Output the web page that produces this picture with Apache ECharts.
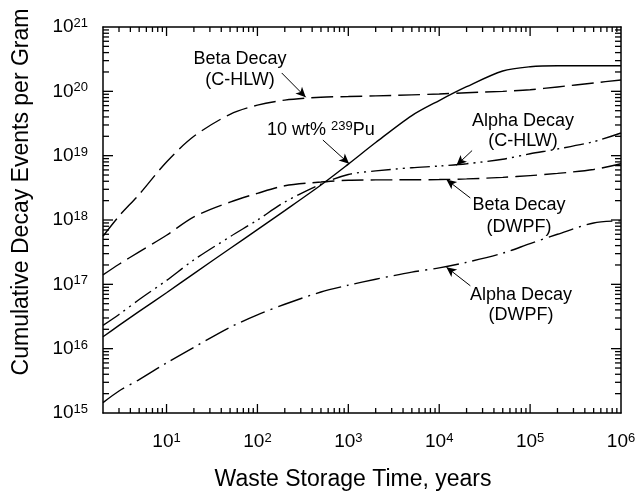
<!DOCTYPE html>
<html><head><meta charset="utf-8">
<script src="https://cdn.jsdelivr.net/npm/echarts@6/dist/echarts.min.js"></script>
<style>html,body{margin:0;padding:0;background:#fff}#c{width:640px;height:491px;background:#fff}</style>
</head><body><div id="c"></div>
<script>
// ---- data ----
const years      = [2, 3, 5, 10, 20, 50, 100, 200, 500, 1e3, 2e3, 5e3, 1e4, 2e4, 5e4, 1e5, 2e5, 5e5, 1e6];
const betaCHLW   = [5.6e17, 1.15e18, 2.5e18, 8.0e18, 2.0e19, 4.4e19, 6.1e19, 7.3e19, 8.1e19, 8.3e19, 8.5e19, 8.8e19, 9.1e19, 9.5e19, 1.0e20, 1.06e20, 1.17e20, 1.35e20, 1.5e20];
const pu239      = [1.53e16, 2.3e16, 3.8e16, 7.4e16, 1.47e17, 3.6e17, 7.1e17, 1.4e18, 3.5e18, 7.4e18, 1.6e19, 4.2e19, 7.2e19, 1.18e20, 2.07e20, 2.41e20, 2.5e20, 2.5e20, 2.5e20];
const alphaCHLW  = [2.3e16, 3.4e16, 5.8e16, 1.15e17, 2.4e17, 5.5e17, 1.0e18, 1.9e18, 3.6e18, 5.1e18, 5.8e18, 6.5e18, 6.9e18, 7.5e18, 8.8e18, 1.07e19, 1.27e19, 1.65e19, 2.25e19];
const betaDWPF   = [1.4e17, 2.05e17, 3.2e17, 5.8e17, 1.12e18, 1.9e18, 2.6e18, 3.4e18, 3.9e18, 4.15e18, 4.2e18, 4.22e18, 4.25e18, 4.35e18, 4.6e18, 4.9e18, 5.3e18, 6.1e18, 7.5e18];
const alphaDWPF  = [1.45e15, 2.2e15, 3.3e15, 6.0e15, 1.05e16, 2.15e16, 3.35e16, 4.9e16, 7.6e16, 9.7e16, 1.2e17, 1.55e17, 1.8e17, 2.2e17, 3.05e17, 4.3e17, 6.0e17, 9.0e17, 9.7e17];
// axis ranges and tick values
const xMin = 2, xMax = 1e6, yMin = 1e15, yMax = 1e21;
const minorMult = [2, 3, 4, 5, 6, 7, 8, 9];
const xDecades = [1, 10, 100, 1e3, 1e4, 1e5];
const yDecades = [1e15, 1e16, 1e17, 1e18, 1e19, 1e20];
const xMajorTicks = [10, 100, 1e3, 1e4, 1e5];
const yMajorTicks = [1e16, 1e17, 1e18, 1e19, 1e20];

const FF = "'Liberation Sans', Arial, Helvetica, sans-serif";
const xMinor = [], yMinor = [];
xDecades.forEach(d => minorMult.forEach(m => { const v = m * d; if (v > xMin && v < xMax) xMinor.push([v, yMin]); }));
yDecades.forEach(d => minorMult.forEach(m => { yMinor.push([xMin, m * d]); }));
const xMajor = xMajorTicks.map(v => [v, yMin]);
const yMajor = yMajorTicks.map(v => [xMin, v]);

function pair(ys) { return years.map((x, i) => [x, ys[i]]); }
function powLabel(v) {
  const l = Math.log10(v), e = Math.round(l);
  if (Math.abs(l - e) > 1e-6) return '';
  return '{b|10}{s|' + e + '}';
}
const labelRich = {
  b: { fontSize: 19, lineHeight: 20, fontFamily: FF, color: '#000' },
  s: { fontSize: 13, lineHeight: 10, verticalAlign: 'top', fontFamily: FF, color: '#000' }
};
function axLine() { return { show: true, onZero: false, lineStyle: { color: '#000', width: 1.5 } }; }
function mkX(pos, showLabel) {
  return {
    type: 'log', logBase: 10, min: xMin, max: xMax, position: pos, gridIndex: 0,
    axisLine: axLine(), axisTick: { show: false },
    axisLabel: { show: showLabel, margin: 19, formatter: powLabel, rich: labelRich },
    splitLine: { show: false }, minorTick: { show: false }
  };
}
function mkY(pos, showLabel) {
  return {
    type: 'log', logBase: 10, min: yMin, max: yMax, position: pos, gridIndex: 0,
    axisLine: axLine(), axisTick: { show: false },
    axisLabel: { show: showLabel, margin: 15, formatter: powLabel, rich: labelRich },
    splitLine: { show: false }, minorTick: { show: false }
  };
}
function lineSeries(name, ys, dash) {
  return {
    name: name, type: 'line', data: pair(ys),
    symbol: 'none', smooth: 0.3,
    lineStyle: { color: '#000', width: 1.4, type: dash }
  };
}
// tick marks drawn as thin filled rects on both opposite axes
function xTicks(data, L) {
  return { type: 'custom', silent: true, data: data, clip: false, z: 10,
    renderItem: function (p, api) {
      const v = api.value(0), w = 1.3;
      const b = api.coord([v, yMin]), t = api.coord([v, yMax]);
      return { type: 'group', children: [
        { type: 'rect', shape: { x: b[0] - w / 2, y: b[1] - L, width: w, height: L }, style: { fill: '#000' } },
        { type: 'rect', shape: { x: t[0] - w / 2, y: t[1], width: w, height: L }, style: { fill: '#000' } }
      ] };
    } };
}
function yTicks(data, L) {
  return { type: 'custom', silent: true, data: data, clip: false, z: 10,
    renderItem: function (p, api) {
      const v = api.value(1), w = 1.3;
      const l = api.coord([xMin, v]), r = api.coord([xMax, v]);
      return { type: 'group', children: [
        { type: 'rect', shape: { x: l[0], y: l[1] - w / 2, width: L, height: w }, style: { fill: '#000' } },
        { type: 'rect', shape: { x: r[0] - L, y: r[1] - w / 2, width: L, height: w }, style: { fill: '#000' } }
      ] };
    } };
}
function arrow(from, to) { return [{ coord: from }, { coord: to }]; }

const chart = echarts.init(document.getElementById('c'));
const puSeries = lineSeries('10 wt% 239Pu', pu239, 'solid');
puSeries.markLine = {
  silent: true, symbol: ['none', 'arrow'], symbolSize: [7, 10], animation: false,
  label: { show: false },
  lineStyle: { color: '#000', width: 1, type: 'solid' },
  data: [
    arrow([185, 1.93e20], [340, 8.1e19]),
    arrow([525, 1.75e19], [1020, 7.5e18]),
    arrow([2.3e4, 1.2e19], [1.55e4, 7.1e18]),
    arrow([2.2e4, 2.2e18], [1.2e4, 4.25e18]),
    arrow([2.2e4, 9.5e16], [1.2e4, 1.85e17])
  ]
};

chart.setOption({
  animation: false,
  grid: { left: 103, right: 19, top: 27, bottom: 78 },
  xAxis: [mkX('bottom', true), mkX('top', false)],
  yAxis: [mkY('left', true), mkY('right', false)],
  series: [
    lineSeries('Beta Decay (C-HLW)', betaCHLW, [22, 7]),
    lineSeries('Beta Decay (DWPF)', betaDWPF, [22, 7]),
    puSeries,
    lineSeries('Alpha Decay (C-HLW)', alphaCHLW, [20, 5, 2, 5, 2, 5]),
    lineSeries('Alpha Decay (DWPF)', alphaDWPF, [26, 6, 2, 6]),
    xTicks(xMajor, 9),
    xTicks(xMinor, 5),
    yTicks(yMajor, 10),
    yTicks(yMinor, 6)
  ],
  graphic: [
    { type: 'text', x: 22, y: 192, rotation: Math.PI / 2, silent: true,
      style: { text: 'Cumulative Decay Events per Gram', x: 0, y: 0, align: 'center', verticalAlign: 'middle', font: '23px ' + FF, fill: '#000' } },
    { type: 'text', x: 353, y: 480, silent: true,
      style: { text: 'Waste Storage Time, years', x: 0, y: 0, align: 'center', verticalAlign: 'middle', font: '23px ' + FF, fill: '#000' } },
    { type: 'text', x: 240, y: 70, silent: true,
      style: { text: 'Beta Decay\n(C-HLW)', align: 'center', verticalAlign: 'middle', font: '18px ' + FF, lineHeight: 21, fill: '#000' } },
    { type: 'text', x: 523, y: 131, silent: true,
      style: { text: 'Alpha Decay\n(C-HLW)', align: 'center', verticalAlign: 'middle', font: '18px ' + FF, lineHeight: 20, fill: '#000' } },
    { type: 'text', x: 519, y: 216, silent: true,
      style: { text: 'Beta Decay\n(DWPF)', align: 'center', verticalAlign: 'middle', font: '18px ' + FF, lineHeight: 22, fill: '#000' } },
    { type: 'text', x: 521, y: 305, silent: true,
      style: { text: 'Alpha Decay\n(DWPF)', align: 'center', verticalAlign: 'middle', font: '18px ' + FF, lineHeight: 20, fill: '#000' } },
    { type: 'text', x: 267, y: 130, silent: true,
      style: { text: '{a|10 wt% }{s|239}{a|Pu}', align: 'left', verticalAlign: 'middle',
        rich: { a: { fontSize: 18, lineHeight: 20, fontFamily: FF, color: '#000' },
                s: { fontSize: 13, lineHeight: 9, verticalAlign: 'top', fontFamily: FF, color: '#000' } } } }
  ]
});
</script>
</body></html>
